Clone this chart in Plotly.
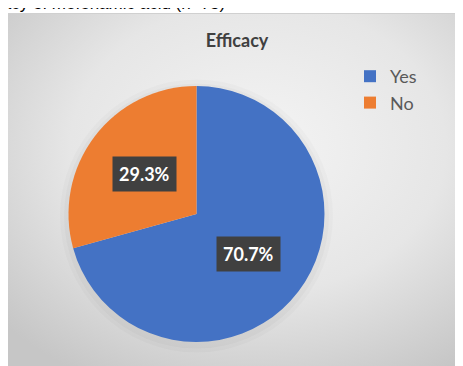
import base64, math
import plotly.graph_objects as go

OFF = 8  # page offset of the plot div
W, H = 463 - OFF, 366 - OFF

categories = ["Yes", "No"]
values = [70.7, 29.3]
colors = ["#4472C4", "#ED7D31"]
chart_title = "Efficacy"
caption = "Efficacy of mefenamic acid (n=75)"


def fx(x):
    return (x - OFF) / W


def fy(y):
    return 1 - (y - OFF) / H


# pie domain in page pixels
px0, px1, py0, py1 = 68, 325, 86, 342
cx, cy = (px0 + px1) / 2, (py0 + py1) / 2
R = (px1 - px0) / 2

# background gradient (chart area)
svg = '''<svg xmlns="http://www.w3.org/2000/svg" width="456" height="353">
<defs><radialGradient id="g" cx="0.55" cy="0.38" r="0.75">
<stop offset="0" stop-color="#f4f4f4"/><stop offset="0.55" stop-color="#e6e6e6"/><stop offset="1" stop-color="#c6c6c6"/>
</radialGradient></defs><rect width="456" height="353" fill="url(#g)"/></svg>'''
src = "data:image/svg+xml;base64," + base64.b64encode(svg.encode()).decode()

fig = go.Figure()
fig.add_trace(go.Pie(
    labels=categories, values=values, sort=False, direction="clockwise", rotation=0,
    marker=dict(colors=colors, line=dict(width=0)),
    textinfo="none", hoverinfo="label+percent",
    domain=dict(x=[fx(px0), fx(px1)], y=[fy(py1), fy(py0)]),
))

# data labels at slice bisectors
annotations = []
total = sum(values)
start = 0.0
for v in values:
    mid = (start + v / 2) / total * 2 * math.pi
    start += v
    lx = cx + 0.51 * R * math.sin(mid)
    ly = cy - 0.51 * R * math.cos(mid)
    annotations.append(dict(
        x=fx(lx), y=fy(ly), xref="paper", yref="paper", showarrow=False,
        text=f"<b>{v / total * 100:.1f}%</b>", font=dict(family="Lato", size=18, color="white"),
        bgcolor="#404040", borderpad=6, xanchor="center", yanchor="middle"))

annotations.append(dict(
    x=fx(227), y=fy(3.5), xref="paper", yref="paper", showarrow=False,
    text=caption, font=dict(family="Liberation Sans, Arial", size=17, color="black"),
    xanchor="right", yanchor="middle"))

shapes = [
    dict(type="rect", xref="paper", yref="paper", x0=fx(7.5), x1=1.01, y0=-0.01, y1=fy(13.5),
         line=dict(color="#d0d0d0", width=1), fillcolor="rgba(0,0,0,0)", layer="below"),
]
for d, a in [(8, 0.02), (4, 0.025)]:
    shapes.append(dict(type="circle", xref="paper", yref="paper",
                       x0=fx(cx - R - d), x1=fx(cx + R + d),
                       y0=fy(cy + R + d + 2), y1=fy(cy - R - d + 2),
                       line=dict(width=0), fillcolor=f"rgba(0,0,0,{a})", layer="below"))

fig.update_layout(
    width=W, height=H, margin=dict(l=0, r=0, t=0, b=0),
    paper_bgcolor="white", plot_bgcolor="white",
    title=dict(text=f"<b>{chart_title}</b>", x=fx(237), y=fy(41), xanchor="center", yanchor="middle",
               font=dict(family="Lato", size=18, color="#404040")),
    legend=dict(x=fx(350), y=fy(58), xanchor="left", yanchor="top",
                font=dict(family="Lato", size=18, color="#595959"), bgcolor="rgba(0,0,0,0)",
                tracegroupgap=0, itemsizing="constant"),
    images=[dict(source=src, xref="paper", yref="paper", x=fx(7.5), y=fy(13.5),
                 sizex=1 - fx(7.5), sizey=fy(13.5), sizing="stretch", layer="below",
                 xanchor="left", yanchor="top")],
    shapes=shapes, annotations=annotations, showlegend=True,
)
fig.write_html("out.html")
